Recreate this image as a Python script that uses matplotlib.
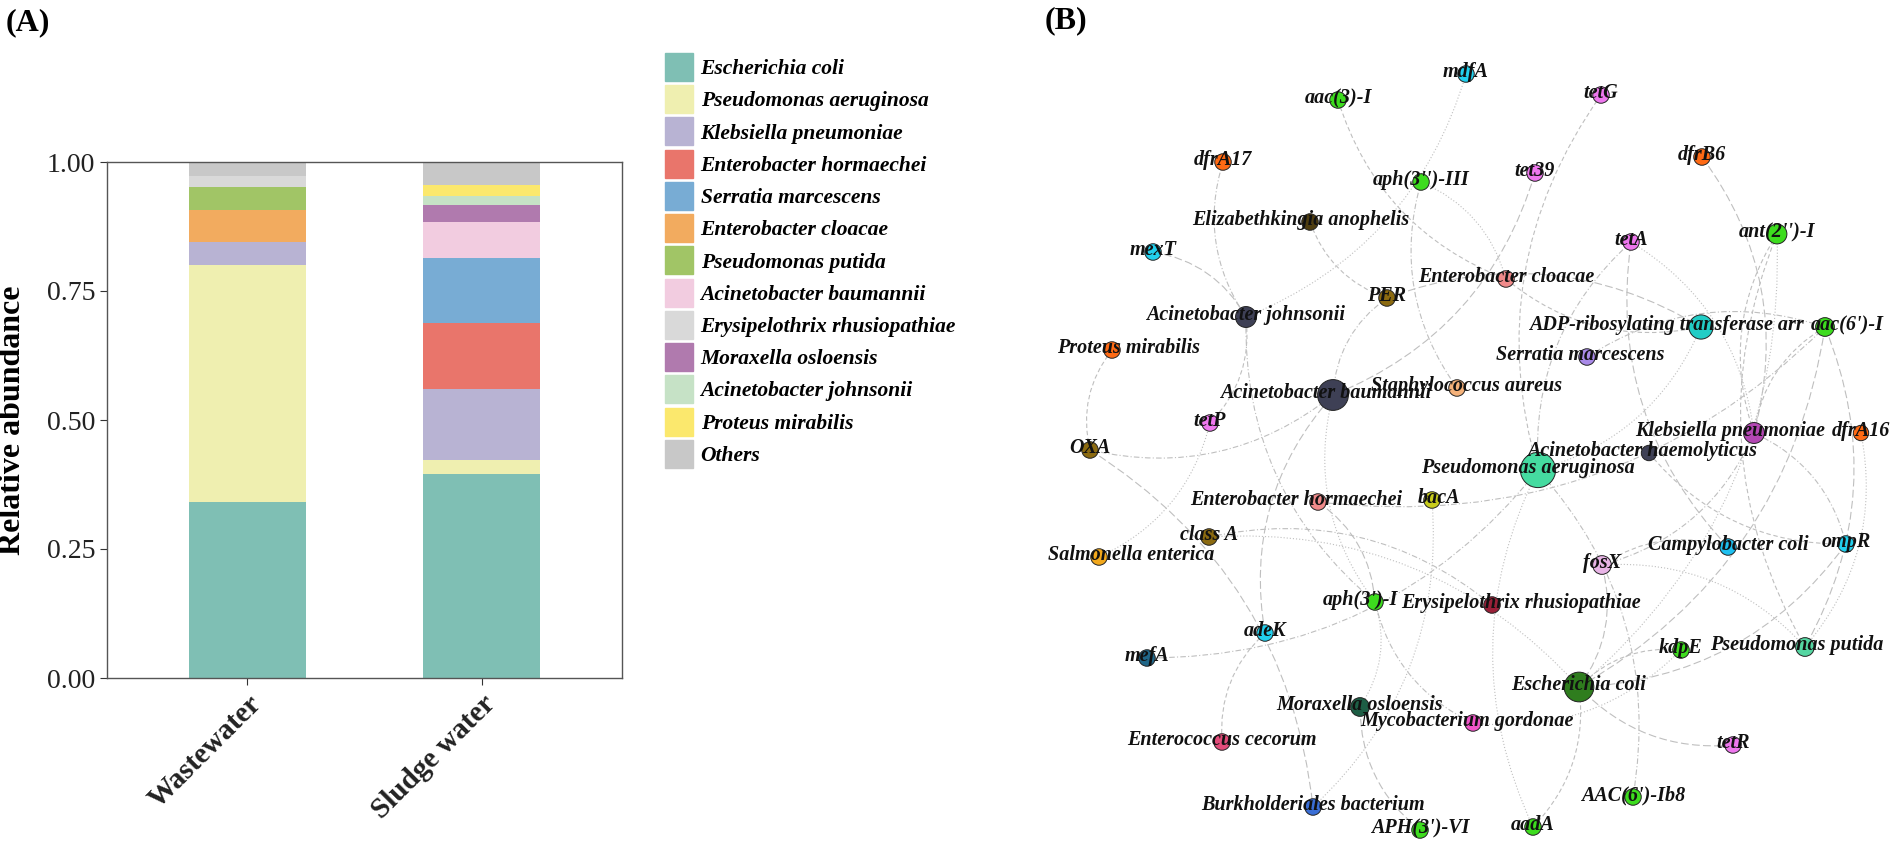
import numpy as np
import matplotlib
matplotlib.use("Agg")
import matplotlib.pyplot as plt
from matplotlib.path import Path
from matplotlib.patches import PathPatch, Patch
from matplotlib.transforms import ScaledTranslation

plt.rcParams['font.family'] = ['Liberation Serif', 'DejaVu Serif']

# ---- panel A data ----
samples = ["Wastewater", "Sludge water"]
taxa = ["Escherichia coli", "Pseudomonas aeruginosa", "Klebsiella pneumoniae",
        "Enterobacter hormaechei", "Serratia marcescens", "Enterobacter cloacae",
        "Pseudomonas putida", "Acinetobacter baumannii", "Erysipelothrix rhusiopathiae",
        "Moraxella osloensis", "Acinetobacter johnsonii", "Proteus mirabilis", "Others"]
wastewater = [0.342, 0.458, 0.045, 0.0, 0.0, 0.062, 0.044, 0.0, 0.021, 0.0, 0.0, 0.0, 0.028]
sludge = [0.396, 0.027, 0.137, 0.128, 0.125, 0.0, 0.0, 0.071, 0.0, 0.033, 0.018, 0.021, 0.044]
taxa_colors = ['#7fbfb4', '#efefb0', '#b8b3d3', '#e9756b', '#78acd4', '#f2ab5f', '#a1c566',
               '#f2cce0', '#d9d9d9', '#b07aae', '#c6e2c6', '#fbe86d', '#c8c8c8']

# ---- panel B data ----
node_names = ["aac(3)-I", "dfrA17", "Elizabethkingia anophelis", "mexT", "Acinetobacter johnsonii",
              "Proteus mirabilis", "Acinetobacter baumannii", "tetP", "mdfA", "tetG",
              "aph(3'')-III", "tet39", "dfrB6", "tetA", "ant(2'')-I", "Enterobacter cloacae",
              "PER", "ADP-ribosylating transferase arr", "aac(6')-I", "Serratia marcescens",
              "Staphylococcus aureus", "OXA", "Enterobacter hormaechei", "class A",
              "Salmonella enterica", "aph(3')-I", "adeK", "mefA", "Moraxella osloensis",
              "Enterococcus cecorum", "Burkholderiales bacterium", "Klebsiella pneumoniae",
              "dfrA16", "Acinetobacter haemolyticus", "Pseudomonas aeruginosa", "bacA",
              "Campylobacter coli", "ompR", "fosX", "Erysipelothrix rhusiopathiae", "kdpE",
              "Pseudomonas putida", "Escherichia coli", "Mycobacterium gordonae", "tetR",
              "AAC(6')-Ib8", "APH(3')-VI", "aadA"]
# layout positions (pixels)
node_x = [1338, 1223, 1310, 1153, 1246, 1112, 1333, 1210, 1466, 1601, 1421, 1535, 1702, 1631,
          1777, 1506, 1387, 1701, 1825, 1587, 1457, 1090, 1318, 1209, 1099, 1375, 1265, 1147,
          1360, 1222, 1313, 1754, 1861, 1649, 1538, 1432, 1728, 1846, 1602, 1492, 1681, 1805,
          1579, 1473, 1733, 1633, 1420, 1533]
node_y = [100, 162, 222, 252, 317, 350, 395, 423, 74, 95, 182, 173, 157, 242, 234, 279, 298,
          327, 327, 357, 388, 450, 502, 537, 557, 602, 633, 658, 707, 742, 807, 433, 433, 453,
          470, 500, 547, 544, 565, 605, 650, 647, 687, 723, 745, 797, 830, 827]
node_d = [15, 15, 15, 15, 19, 15, 28, 15, 15, 15, 15, 15, 15, 15, 18, 15, 15, 22, 17, 15, 15,
          15, 15, 15, 15, 15, 15, 15, 17, 15, 15, 19, 14, 14, 32, 15, 15, 15, 17, 15, 15, 17,
          27, 15, 15, 15, 15, 15]
node_colors = ['#3ddc1e', '#ff6a14', '#4e3d10', '#22d0ee', '#3e4055', '#ff6a14', '#3e4055',
               '#ee77ee', '#22d0ee', '#ee77ee', '#3ddc1e', '#ee77ee', '#ff6a14', '#ee77ee',
               '#3ddc1e', '#f08a8a', '#8b6a10', '#22cdc6', '#3ddc1e', '#a98ae8', '#f5b27a',
               '#8b6a10', '#f08a8a', '#8b6a10', '#f2a81c', '#3ddc1e', '#22d0ee', '#1f6688',
               '#1d5e45', '#e24c7a', '#3a6ed6', '#b347b3', '#ff6a14', '#3e4055', '#45dba0',
               '#c8cc1c', '#1ec0f0', '#22d0ee', '#e8b4e6', '#9a2038', '#3ddc1e', '#55d6a2',
               '#2f7d1e', '#f055c8', '#ee77ee', '#3ddc1e', '#3ddc1e', '#3ddc1e']
edges = [
    ("aac(3)-I", "Enterobacter cloacae"), ("mdfA", "Acinetobacter johnsonii"),
    ("dfrA17", "Acinetobacter johnsonii"), ("mexT", "Acinetobacter johnsonii"),
    ("Elizabethkingia anophelis", "PER"), ("aph(3'')-III", "Enterobacter cloacae"),
    ("aph(3'')-III", "Staphylococcus aureus"), ("tet39", "Acinetobacter baumannii"),
    ("tetG", "Pseudomonas aeruginosa"), ("tetA", "Klebsiella pneumoniae"),
    ("tetA", "Pseudomonas aeruginosa"), ("dfrB6", "Klebsiella pneumoniae"),
    ("ant(2'')-I", "Klebsiella pneumoniae"), ("ant(2'')-I", "Escherichia coli"),
    ("PER", "Acinetobacter baumannii"), ("PER", "ADP-ribosylating transferase arr"),
    ("Enterobacter cloacae", "ADP-ribosylating transferase arr"),
    ("ADP-ribosylating transferase arr", "Pseudomonas aeruginosa"),
    ("aac(6')-I", "Serratia marcescens"), ("aac(6')-I", "Escherichia coli"),
    ("aac(6')-I", "Klebsiella pneumoniae"), ("dfrA16", "Pseudomonas putida"),
    ("ompR", "Klebsiella pneumoniae"), ("ompR", "Escherichia coli"),
    ("Campylobacter coli", "fosX"), ("fosX", "Pseudomonas putida"),
    ("fosX", "Klebsiella pneumoniae"), ("fosX", "Escherichia coli"),
    ("Acinetobacter haemolyticus", "ompR"), ("bacA", "Burkholderiales bacterium"),
    ("Enterobacter hormaechei", "aac(6')-I"), ("Enterobacter hormaechei", "aph(3')-I"),
    ("tetP", "Acinetobacter johnsonii"), ("tetP", "Salmonella enterica"),
    ("OXA", "Acinetobacter baumannii"), ("OXA", "Burkholderiales bacterium"),
    ("Proteus mirabilis", "OXA"), ("class A", "Escherichia coli"),
    ("mefA", "Pseudomonas aeruginosa"), ("adeK", "Acinetobacter baumannii"),
    ("adeK", "Enterococcus cecorum"), ("aph(3')-I", "Moraxella osloensis"),
    ("aph(3')-I", "Mycobacterium gordonae"), ("APH(3')-VI", "Moraxella osloensis"),
    ("aadA", "Escherichia coli"), ("aadA", "Pseudomonas aeruginosa"),
    ("AAC(6')-Ib8", "Pseudomonas aeruginosa"), ("tetR", "Escherichia coli"),
    ("kdpE", "Escherichia coli"), ("kdpE", "Mycobacterium gordonae"),
    ("Erysipelothrix rhusiopathiae", "class A"), ("Campylobacter coli", "tetA"),
    ("ant(2'')-I", "Pseudomonas putida"), ("aph(3')-I", "Acinetobacter baumannii"),
    ("Acinetobacter johnsonii", "aph(3')-I"), ("aac(6')-I", "Pseudomonas putida"),
]

# horizontal nudges of some node labels (pixels), as placed in the original figure
label_dx = {"ADP-ribosylating transferase arr": -35, "aac(6')-I": 22, "Proteus mirabilis": 17,
            "Klebsiella pneumoniae": -24, "Acinetobacter haemolyticus": -7,
            "Pseudomonas aeruginosa": -10, "Enterobacter hormaechei": -22, "bacA": 7,
            "aph(3')-I": -15, "Erysipelothrix rhusiopathiae": 29, "Pseudomonas putida": -8,
            "Mycobacterium gordonae": -6, "Serratia marcescens": -7, "Staphylococcus aureus": 10,
            "Elizabethkingia anophelis": -9, "Salmonella enterica": 32,
            "Acinetobacter baumannii": -7}

W, H = 1902, 848
fig = plt.figure(figsize=(W / 100, H / 100), dpi=100)

# ---------------- (A) stacked bars ----------------
ax = fig.add_axes([107 / W, 1 - 678 / H, 515 / W, 516 / H])
xpos = np.arange(len(samples))
bottom = np.zeros(len(samples))
for i, name in enumerate(taxa):
    vals = np.array([wastewater[i], sludge[i]])
    ax.bar(xpos, vals, 0.5, bottom=bottom, color=taxa_colors[i], label=name, linewidth=0)
    bottom += vals
ax.set_xlim(-0.6, 1.6)
ax.set_ylim(0, 1)
ax.set_yticks([0, 0.25, 0.5, 0.75, 1.0])
ax.set_yticklabels(["0.00", "0.25", "0.50", "0.75", "1.00"], fontsize=20)
ax.set_xticks(xpos)
ax.set_xticklabels(samples, rotation=45, ha='right', rotation_mode='anchor',
                   fontsize=21, fontweight='bold')
shift = ScaledTranslation(0.14, 0, fig.dpi_scale_trans)
for lab in ax.get_xticklabels():
    lab.set_transform(lab.get_transform() + shift)
for s in ax.spines.values():
    s.set_color('#555555')
    s.set_linewidth(1.0)
ax.tick_params(colors='#333333', length=5, labelcolor='#222222')
ax.set_ylabel("Relative abundance", fontsize=23, fontweight='bold')
ax.yaxis.set_label_coords(-0.155, 0.5)

handles = [Patch(color=c) for c in taxa_colors]
fig.legend(handles, taxa, loc='upper left', bbox_to_anchor=(665 / W, 1 - 53 / H),
           frameon=False, borderpad=0, borderaxespad=0, handlelength=1.3,
           handleheight=1.62, labelspacing=0.2, handletextpad=0.35,
           prop={'family': 'Liberation Serif', 'style': 'italic', 'weight': 'bold', 'size': 15.5})

fig.text(28 / W, 1 - 23 / H, "(A)", fontsize=23, fontweight='bold', ha='center', va='center')
fig.text(1066 / W, 1 - 21 / H, "(B)", fontsize=23, fontweight='bold', ha='center', va='center')

# ---------------- (B) network ----------------
nx = fig.add_axes([860 / W, 0, (W - 860) / W, 1])
nx.set_xlim(860, W)
nx.set_ylim(H, 0)
nx.axis('off')

pos = {n: (x, y) for n, x, y in zip(node_names, node_x, node_y)}
styles = [(0, (4, 2.5)), (0, (1, 1.8)), (0, (5, 2, 1, 2)), (0, (7, 3))]
for k, (a, b) in enumerate(edges):
    x0, y0 = pos[a]
    x1, y1 = pos[b]
    mx, my = (x0 + x1) / 2, (y0 + y1) / 2
    dx, dy = x1 - x0, y1 - y0
    c = 0.24 if k % 2 == 0 else -0.24
    cx, cy = mx - dy * c, my + dx * c
    p = Path([(x0, y0), (cx, cy), (x1, y1)], [Path.MOVETO, Path.CURVE3, Path.CURVE3])
    nx.add_patch(PathPatch(p, fc='none', ec='#bfbfbf', lw=0.8, ls=styles[k % 4], zorder=1))

sizes = [(d * 1.1 * 0.72) ** 2 for d in node_d]
nx.scatter(node_x, node_y, s=sizes, c=node_colors, edgecolors='#222222', linewidths=0.7, zorder=2)
for n, x, y in zip(node_names, node_x, node_y):
    nx.text(x + label_dx.get(n, 0), y - 2, n, ha='center', va='center', fontsize=14.5,
            fontstyle='italic', fontweight='bold', color='#111111', zorder=3)

fig.savefig("out.png", dpi=100)
